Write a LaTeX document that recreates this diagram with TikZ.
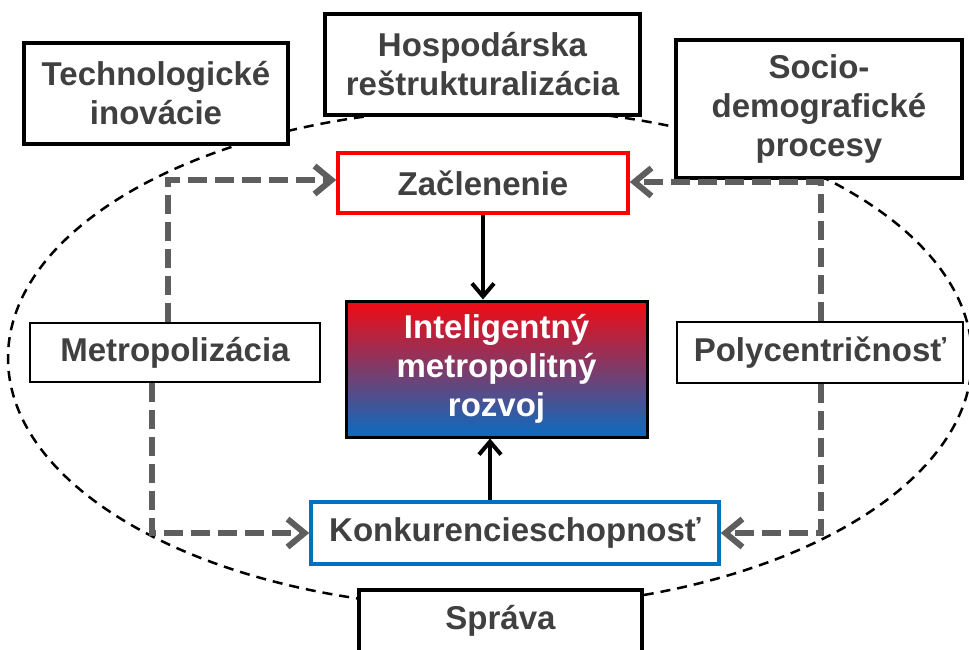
\documentclass[tikz,border=0pt]{standalone}
\usepackage{fontspec}
\setmainfont{Liberation Sans}
\usetikzlibrary{arrows.meta}

\definecolor{textgray}{HTML}{404040}
\definecolor{arrowgray}{HTML}{5E5E5E}
\definecolor{zaclred}{HTML}{FF0000}
\definecolor{konkblue}{HTML}{0070C0}
\definecolor{topred}{HTML}{F20A12}
\definecolor{bottomblue}{HTML}{0A6CC2}

\begin{document}
\begin{tikzpicture}[x=1pt, y=-1pt,
  >={Straight Barb[length=13pt,width=22pt]},
  factor/.style={draw=black, line width=3.5pt, fill=white, text=textgray,
    font=\bfseries\fontsize{33}{39}\selectfont, align=center, inner sep=0pt},
  influence/.style={->, arrowgray, line width=6pt, dash pattern=on 19pt off 8pt,
    >={Straight Barb[length=17pt,width=28pt]}},
  effect/.style={->, black, line width=4pt}]

\useasboundingbox (0,0) rectangle (969,649);

% Elipsa
\draw[black, line width=2.5pt, dash pattern=on 10pt off 7pt] (490,358) ellipse [x radius=482, y radius=250];

% Vonkajsie faktory
\node[factor, minimum width=264, minimum height=101] (tech) at (156,93.5) {Technologické\\inovácie};
\node[factor, minimum width=315, minimum height=101] (hosp) at (482.5,64.5) {Hospodárska\\reštrukturalizácia};
\node[factor, minimum width=286, minimum height=138] (socio) at (819,109) {Socio-\\demografické\\procesy};
\node[factor, minimum width=283, minimum height=62] (sprava) at (500.5,621) {Správa};

% Procesy
\node[factor, line width=2.5pt, minimum width=290, minimum height=59] (metro) at (175,352.5) {Metropolizácia};
\node[factor, line width=2.5pt, minimum width=286, minimum height=61] (poly) at (820,352.5) {Polycentričnosť};

% Ciele
\node[factor, draw=zaclred, minimum width=290, minimum height=60] (zacl) at (483,183) {Začlenenie};
\node[factor, draw=konkblue, minimum width=408, minimum height=62] (konk) at (515,533) {Konkurencieschopnosť};

% Stred
\node[factor, line width=3pt, top color=topred, bottom color=bottomblue, text=white,
      minimum width=301, minimum height=136] (intel) at (496.5,369) {Inteligentný\\metropolitný\\rozvoj};

% Sipky
\draw[influence] ([xshift=-7pt]metro.north) |- ([yshift=3pt]zacl.west);
\draw[influence] ([xshift=-23pt]metro.south) |- (konk.west);
\draw[influence] ([xshift=1pt]poly.north) |- ([yshift=1pt]zacl.east);
\draw[influence] ([xshift=1pt]poly.south) |- (konk.east);

\draw[effect] (zacl.south) -- (zacl.south |- intel.north);
\draw[effect] ([xshift=-25pt]konk.north) -- ([xshift=-25pt]konk.north |- intel.south);

\end{tikzpicture}
\end{document}
